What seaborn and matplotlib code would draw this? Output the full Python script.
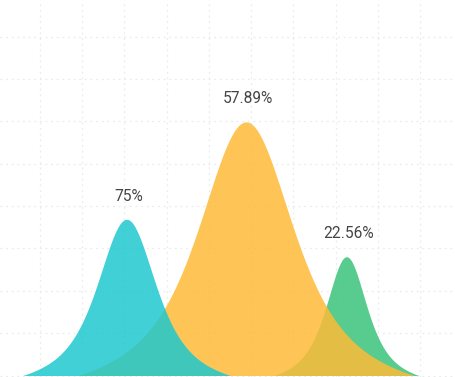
import numpy as np
import pandas as pd
import matplotlib
matplotlib.use("Agg")
import matplotlib.pyplot as plt
import seaborn as sns

# ---- data ----
labels = ["75%", "57.89%", "22.56%"]
centers = [3.05, 5.88, 8.26]
heights = [36.9, 59.9, 28.05]
half_widths = [2.46, 3.98, 1.71]
colors = ["#1EC8CF", "#FEBB38", "#3BC47A"]
zorders = [3, 2, 1]

sns.set_theme(style="white")
plt.rcParams["font.family"] = ["Roboto", "DejaVu Sans"]

fig = plt.figure(figsize=(4.55, 3.77), dpi=100)
ax = fig.add_axes([0, 0, 1, 1])
ax.set_xlim(0.052, 10.83)
ax.set_ylim(-0.354, 88.67)

# grid
ax.set_xticks(np.arange(1, 11))
ax.set_yticks(np.arange(0, 90, 10))
ax.grid(True, color="#ebebeb", linestyle=(0, (1.5, 3)), linewidth=0.9)
ax.tick_params(length=0, labelbottom=False, labelleft=False)
for s in ax.spines.values():
    s.set_visible(False)


def mountain(c, h, w, s=0.36, n=301):
    u = np.linspace(-1, 1, n)
    p = (1 + u ** 2 / (2 * s ** 2)) ** -2
    p1 = (1 + 1 / (2 * s ** 2)) ** -2
    prof = np.clip(p - p1 * u ** 2, 0, None)
    return c + u * w, prof * h


df = pd.DataFrame({"label": labels, "center": centers, "height": heights,
                   "hw": half_widths})

for i, row in df.iterrows():
    X, Y = mountain(row.center, row.height, row.hw)
    ax.fill_between(X, 0, Y, color=colors[i], alpha=0.85, linewidth=0,
                    zorder=zorders[i])
    ax.annotate(row.label, (row.center, row.height), xytext=(1.5, 16.5),
                textcoords="offset points", ha="center", va="center",
                fontsize=11.2, color="#444444", zorder=5)

fig.savefig("out.png", dpi=100)
